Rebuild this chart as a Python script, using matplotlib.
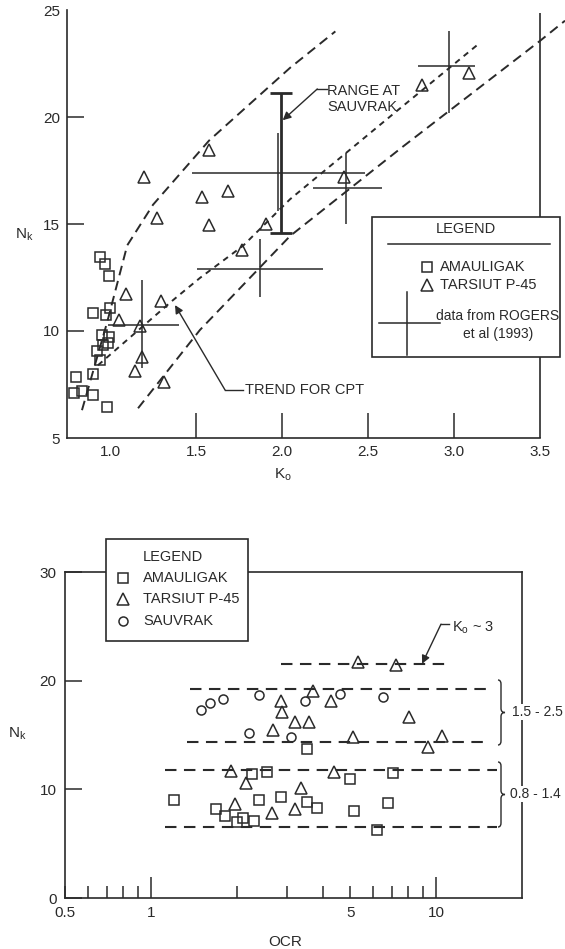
import matplotlib
matplotlib.use("Agg")
import matplotlib.pyplot as plt
from matplotlib.path import Path
from matplotlib.patches import PathPatch, Rectangle
from matplotlib.ticker import FixedLocator, FixedFormatter, NullFormatter

plt.rcParams["font.family"] = ["Liberation Sans", "DejaVu Sans"]
plt.rcParams["font.size"] = 10.5
INK = "#2a2a2a"
TICK_FS = 11

# ---- top panel: Nk vs Ko ----
amau_k = [0.942, 0.971, 0.994, 0.901, 0.977, 1.0, 0.953, 0.994, 0.959, 0.924,
          0.942, 0.988, 0.80, 0.90, 0.79, 0.837, 0.90, 0.98]
amau_n = [13.47, 13.15, 12.59, 10.83, 10.74, 11.06, 9.81, 9.72, 9.35, 9.07,
          8.66, 9.44, 7.87, 8.0, 7.08, 7.2, 7.0, 6.44]
tars_k = [1.576, 1.198, 1.535, 1.686, 1.273, 1.576, 1.907, 1.767, 1.093, 1.297,
          1.052, 1.174, 1.186, 1.145, 1.314, 2.360, 2.814, 3.087]
tars_n = [18.47, 17.18, 16.25, 16.53, 15.28, 14.95, 15.0, 13.8, 11.71, 11.39,
          10.5, 10.23, 8.8, 8.15, 7.64, 17.18, 21.48, 22.04]

# Rogers et al (1993) crosses: centre, horizontal extent, vertical extent
rog_k = [1.186, 1.872, 1.977, 2.372, 2.97]
rog_n = [10.28, 12.92, 17.36, 16.67, 22.36]
rog_k_lo = [0.988, 1.506, 1.477, 2.18, 2.79]
rog_k_hi = [1.40, 2.24, 2.48, 2.58, 3.12]
rog_n_lo = [8.29, 11.6, 15.6, 15.0, 20.2]
rog_n_hi = [12.36, 14.3, 19.26, 18.3, 24.0]

# range at Sauvrak
sauv_k = 1.994
sauv_n_lo, sauv_n_hi = 14.6, 21.1

# dashed envelopes
upper_k = [0.837, 0.983, 1.10, 1.25, 1.576, 2.047, 2.31]
upper_n = [6.3, 10.4, 14.0, 15.9, 18.9, 22.3, 24.0]
trend_k = [0.93, 1.366, 1.523, 1.773, 2.047, 2.64, 3.145]
trend_n = [8.4, 11.44, 12.48, 13.98, 16.16, 20.1, 23.43]
lower_k = [1.163, 1.523, 2.047, 2.70, 3.5, 3.645]
lower_n = [6.39, 10.05, 14.44, 18.6, 23.56, 24.5]

# ---- bottom panel: Nk vs OCR ----
b_amau_ocr = [3.54, 2.27, 2.56, 1.21, 1.69, 1.82, 2.01, 2.11, 2.29, 2.40, 2.87,
              3.54, 3.81, 4.98, 7.06, 5.14, 6.78, 6.20]
b_amau_n = [13.67, 11.38, 11.56, 8.99, 8.17, 7.52, 6.97, 7.34, 7.06, 8.99, 9.27,
            8.81, 8.26, 10.92, 11.47, 7.98, 8.72, 6.24]
b_tars_ocr = [5.31, 7.23, 2.87, 2.89, 3.69, 4.27, 3.21, 3.57, 2.67, 8.04, 5.10,
              9.37, 10.5, 1.91, 2.16, 1.98, 2.65, 3.35, 3.21, 4.37]
b_tars_n = [21.74, 21.47, 18.17, 17.16, 19.08, 18.17, 16.24, 16.24, 15.5, 16.7,
            14.77, 13.85, 14.95, 11.65, 10.55, 8.62, 7.80, 10.09, 8.17, 11.56]
b_sauv_ocr = [1.50, 1.61, 1.79, 2.40, 3.46, 4.59, 6.51, 2.20, 3.09]
b_sauv_n = [17.34, 17.98, 18.35, 18.72, 18.17, 18.81, 18.53, 15.23, 14.77]

band_n = [21.5, 19.2, 14.4, 11.8, 6.5]
band_ocr_lo = [2.85, 1.37, 1.34, 1.12, 1.12]
band_ocr_hi = [10.8, 15.6, 15.0, 16.3, 16.3]

W, H = 565, 949
fig = plt.figure(figsize=(W / 100, H / 100), dpi=100)

mk = dict(linestyle="none", mfc="none", mec=INK, mew=1.1)

# ================= top =================
ax = fig.add_axes([67 / W, 1 - 438 / H, 498 / W, 428 / H])
ax.set_xlim(0.75, 3.645)
ax.set_ylim(5, 25)
for s in ("top", "right"):
    ax.spines[s].set_visible(False)
for s in ("left", "bottom"):
    ax.spines[s].set_color(INK)
    ax.spines[s].set_linewidth(1.2)
ax.spines["bottom"].set_bounds(0.75, 3.5)
ax.vlines(3.5, 5, 24.85, color=INK, lw=1.2)

ax.plot(upper_k, upper_n, color=INK, lw=1.4, linestyle=(0, (5, 3)))
ax.plot(trend_k, trend_n, color=INK, lw=1.4, linestyle=(0, (3, 2.6)))
ax.plot(lower_k, lower_n, color=INK, lw=1.4, linestyle=(0, (5, 3)))

ax.hlines(rog_n, rog_k_lo, rog_k_hi, color=INK, lw=1.1)
ax.vlines(rog_k, rog_n_lo, rog_n_hi, color=INK, lw=1.1)

ax.errorbar([sauv_k], [(sauv_n_lo + sauv_n_hi) / 2], yerr=[(sauv_n_hi - sauv_n_lo) / 2],
            fmt="none", ecolor=INK, elinewidth=2.0, capsize=8, capthick=2.0)

ax.plot(amau_k, amau_n, marker="s", ms=7, **mk)
ax.plot(tars_k, tars_n, marker="^", ms=9, **mk)

ax.text(2.262, 20.84, "RANGE AT\nSAUVRAK", ha="left", va="center", color=INK,
        linespacing=1.15)
ax.plot([2.262, 2.205], [21.31, 21.31], color=INK, lw=1.0)
ax.annotate("", xy=(2.004, 19.85), xytext=(2.205, 21.31),
            arrowprops=dict(arrowstyle="-|>", color=INK, lw=1.0,
                            mutation_scale=12, shrinkA=0, shrinkB=0))
ax.text(1.785, 7.24, "TREND FOR CPT", ha="left", va="center", color=INK)
ax.plot([1.773, 1.669], [7.24, 7.24], color=INK, lw=1.0)
ax.annotate("", xy=(1.378, 11.21), xytext=(1.669, 7.24),
            arrowprops=dict(arrowstyle="-|>", color=INK, lw=1.0,
                            mutation_scale=12, shrinkA=0, shrinkB=0))

ax.xaxis.set_major_locator(FixedLocator([1.5, 2.0, 2.5, 3.0]))
ax.xaxis.set_major_formatter(FixedFormatter(["1.5", "2.0", "2.5", "3.0"]))
ax.xaxis.set_minor_locator(FixedLocator([1.0, 3.5]))
ax.xaxis.set_minor_formatter(FixedFormatter(["1.0", "3.5"]))
ax.yaxis.set_major_locator(FixedLocator([10, 15, 20]))
ax.yaxis.set_major_formatter(FixedFormatter(["10", "15", "20"]))
ax.yaxis.set_minor_locator(FixedLocator([5, 25]))
ax.yaxis.set_minor_formatter(FixedFormatter(["5", "25"]))
ax.tick_params(axis="x", which="major", direction="in", length=18, width=1.1,
               color=INK, labelcolor=INK, pad=5, labelsize=TICK_FS)
ax.tick_params(axis="x", which="minor", direction="in", length=0,
               labelcolor=INK, pad=5, labelsize=TICK_FS)
ax.tick_params(axis="y", which="major", direction="in", length=12, width=1.1,
               color=INK, labelcolor=INK, pad=5, labelsize=TICK_FS)
ax.tick_params(axis="y", which="minor", direction="in", length=0,
               labelcolor=INK, pad=5, labelsize=TICK_FS)
ax.set_ylabel(r"N$_\mathregular{k}$", rotation=0, color=INK, fontsize=11)
ax.yaxis.set_label_coords(-0.085, 0.456)
ax.set_xlabel(r"K$_\mathregular{o}$", color=INK, fontsize=11)
ax.xaxis.set_label_coords(0.434, -0.065)

# ================= bottom =================
bx = fig.add_axes([65 / W, 1 - 898 / H, 457 / W, 326 / H])
bx.set_xscale("log")
bx.set_xlim(0.5, 20)
bx.set_ylim(0, 30)
for s in bx.spines.values():
    s.set_color(INK)
    s.set_linewidth(1.2)

bx.hlines(band_n, band_ocr_lo, band_ocr_hi, color=INK, lw=1.5,
          linestyle=(0, (5.5, 3.6)))
bx.plot(b_amau_ocr, b_amau_n, marker="s", ms=7, **mk)
bx.plot(b_tars_ocr, b_tars_n, marker="^", ms=9, **mk)
bx.plot(b_sauv_ocr, b_sauv_n, marker="o", ms=6.5, **mk)

bx.text(11.4, 24.86, r"K$_\mathregular{o}$ ~ 3", ha="left", va="center", color=INK)
bx.plot([11.1, 10.4], [25.2, 25.2], color=INK, lw=1.0)
bx.annotate("", xy=(8.93, 21.56), xytext=(10.4, 25.2),
            arrowprops=dict(arrowstyle="-|>", color=INK, lw=1.0,
                            mutation_scale=12, shrinkA=0, shrinkB=0))

bx.xaxis.set_major_locator(FixedLocator([1, 10]))
bx.xaxis.set_major_formatter(FixedFormatter(["1", "10"]))
minor_ocr = [0.5, 0.6, 0.7, 0.8, 0.9, 2, 3, 4, 5, 6, 7, 8, 9]
minor_lab = ["0.5", "", "", "", "", "", "", "", "5", "", "", "", ""]
bx.xaxis.set_minor_locator(FixedLocator(minor_ocr))
bx.xaxis.set_minor_formatter(FixedFormatter(minor_lab))
bx.yaxis.set_major_locator(FixedLocator([0, 10, 20, 30]))
bx.yaxis.set_major_formatter(FixedFormatter(["0", "10", "20", "30"]))
bx.yaxis.set_minor_formatter(NullFormatter())
bx.tick_params(axis="x", which="major", direction="in", length=15, width=1.1,
               color=INK, labelcolor=INK, pad=6, labelsize=TICK_FS)
bx.tick_params(axis="x", which="minor", direction="in", length=9, width=1.1,
               color=INK, labelcolor=INK, pad=6, labelsize=TICK_FS)
bx.tick_params(axis="y", which="major", direction="in", length=12, width=1.1,
               color=INK, labelcolor=INK, pad=6, labelsize=TICK_FS)
bx.tick_params(axis="y", which="minor", length=0)
bx.set_ylabel(r"N$_\mathregular{k}$", rotation=0, color=INK, fontsize=11)
bx.yaxis.set_label_coords(-0.105, 0.479)
bx.set_xlabel("OCR", color=INK, fontsize=11)
bx.xaxis.set_label_coords(0.481, -0.115)

# ================= overlay in pixel space (legends, braces) =================
ov = fig.add_axes([0, 0, 1, 1])
ov.set_xlim(0, W)
ov.set_ylim(H, 0)
ov.axis("off")

# top legend
ov.add_patch(Rectangle((372, 217), 188, 140, fc="white", ec=INK, lw=1.2))
ov.text(466, 229, "LEGEND", ha="center", va="center", color=INK)
ov.plot([388, 550], [244, 244], color=INK, lw=1.1)
ov.plot([427], [267], marker="s", ms=7, **mk)
ov.text(440, 267, "AMAULIGAK", ha="left", va="center", color=INK)
ov.plot([427], [285], marker="^", ms=9, **mk)
ov.text(440, 285, "TARSIUT P-45", ha="left", va="center", color=INK)
ov.plot([379, 440], [323, 323], color=INK, lw=1.1)
ov.plot([407, 407], [292, 355], color=INK, lw=1.1)
ov.text(498, 325, "data from ROGERS\net al (1993)", ha="center", va="center",
        color=INK, linespacing=1.3, fontsize=10)

# bottom legend
ov.add_patch(Rectangle((106, 539), 142, 102, fc="white", ec=INK, lw=1.2))
ov.text(143, 557, "LEGEND", ha="left", va="center", color=INK)
ov.plot([123], [578], marker="s", ms=7, **mk)
ov.text(143, 578, "AMAULIGAK", ha="left", va="center", color=INK)
ov.plot([123], [599], marker="^", ms=9, **mk)
ov.text(143, 599, "TARSIUT P-45", ha="left", va="center", color=INK)
ov.plot([123], [621], marker="o", ms=6.5, **mk)
ov.text(143, 621, "SAUVRAK", ha="left", va="center", color=INK)


def brace(x0, ytop, ybot, w=7, r=4):
    xm = x0 + 3
    ym = (ytop + ybot) / 2
    verts = [(x0, ytop), (xm, ytop), (xm, ytop + r), (xm, ym - r),
             (xm, ym), (x0 + w, ym), (xm, ym), (xm, ym + r),
             (xm, ybot - r), (xm, ybot), (x0, ybot)]
    codes = [Path.MOVETO, Path.CURVE3, Path.CURVE3, Path.LINETO,
             Path.CURVE3, Path.CURVE3, Path.CURVE3, Path.CURVE3,
             Path.LINETO, Path.CURVE3, Path.CURVE3]
    ov.add_patch(PathPatch(Path(verts, codes), fc="none", ec=INK, lw=1.0))


brace(498, 680, 745)
brace(498, 762, 827)
ov.text(512, 712, "1.5 - 2.5", ha="left", va="center", color=INK, fontsize=10,
        bbox=dict(fc="white", ec="none", pad=0.5))
ov.text(510, 794, "0.8 - 1.4", ha="left", va="center", color=INK, fontsize=10,
        bbox=dict(fc="white", ec="none", pad=0.5))

fig.savefig("out.png", dpi=100)
